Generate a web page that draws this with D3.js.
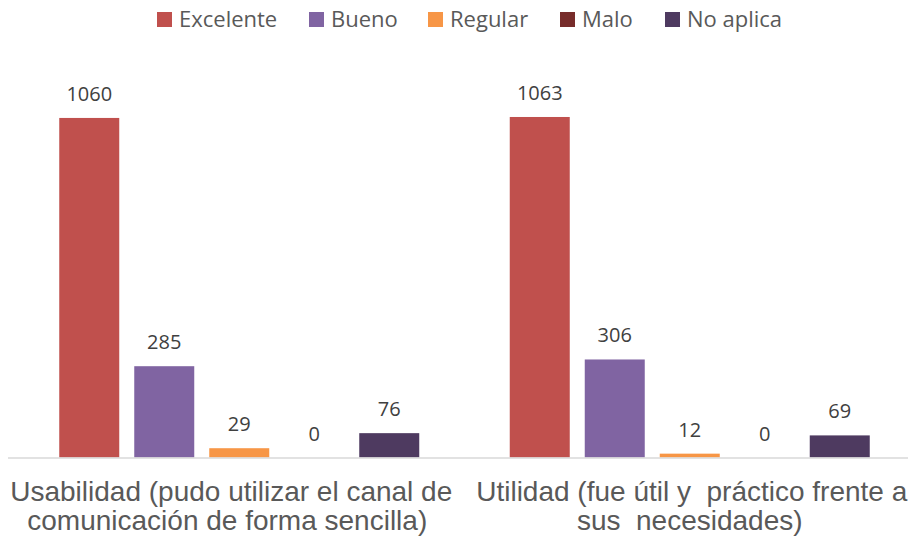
<!DOCTYPE html>
<html>
<head>
<meta charset="utf-8">
<script src="https://cdn.jsdelivr.net/npm/d3@7"></script>
<style>
  body { margin: 0; background: #fff; }
  svg { display: block; }
</style>
</head>
<body>
<div id="chart"></div>
<script>
var svgWidth = 908;
var svgHeight = 537;

// data
var categories = [
  ["Usabilidad (pudo utilizar el canal de", "comunicación de forma sencilla)"],
  ["Utilidad (fue útil y  práctico frente a", "sus  necesidades)"]
];
var series = ["Excelente", "Bueno", "Regular", "Malo", "No aplica"];
var colors = ["#c0504d", "#8064a2", "#f79646", "#772c2a", "#4e3a60"];
var usabilidad = [1060, 285, 29, 0, 76];
var utilidad = [1063, 306, 12, 0, 69];
var values = [usabilidad, utilidad];

var svg = d3.select("#chart").append("svg")
    .attr("width", svgWidth).attr("height", svgHeight);

var catIdx = d3.range(categories.length);

var x0 = d3.scaleBand()
    .domain(catIdx)
    .range([14, 915]);

var x1 = d3.scaleBand()
    .domain(series)
    .range([-180, 180])
    .paddingInner(0.2);

var y = d3.scaleLinear()
    .domain([0, 1200])
    .range([457.5, 73.1]);

var color = d3.scaleOrdinal().domain(series).range(colors);

// bars
var groups = svg.selectAll("g.cat")
    .data(catIdx)
    .enter()
    .append("g")
    .attr("class", "cat")
    .attr("transform", d => `translate(${x0(d) + x0.bandwidth() / 2}, 0)`);

groups.selectAll("rect")
    .data(d => series.map((s, i) => ({ s: s, v: values[d][i] })))
    .enter()
    .append("rect")
    .attr("x", d => x1(d.s))
    .attr("y", d => y(d.v))
    .attr("width", x1.bandwidth())
    .attr("height", d => y(0) - y(d.v))
    .attr("fill", d => color(d.s));

groups.selectAll("text.val")
    .data(d => series.map((s, i) => ({ s: s, v: values[d][i] })))
    .enter()
    .append("text")
    .attr("class", "val")
    .attr("x", d => x1(d.s) + x1.bandwidth() / 2)
    .attr("y", d => y(d.v) - 17)
    .attr("text-anchor", "middle")
    .style("font-family", "'Open Sans', sans-serif")
    .style("font-size", "20px")
    .style("fill", "#404040")
    .text(d => d.v);

// category axis line
svg.append("line")
    .attr("x1", 8).attr("x2", 908)
    .attr("y1", y(0) + 0.5).attr("y2", y(0) + 0.5)
    .attr("stroke", "#d9d9d9")
    .attr("stroke-width", 1.5);

// category labels (small per-line nudges to follow the wrapped text in the original)
var lineShift = [[-8, -12], [2, 0]];

var catLabels = svg.selectAll("text.cat")
    .data(catIdx)
    .enter()
    .append("text")
    .attr("class", "cat")
    .attr("text-anchor", "middle")
    .attr("xml:space", "preserve")
    .style("white-space", "pre")
    .style("font-family", "'Liberation Sans', Arial, sans-serif")
    .style("font-size", "28px")
    .style("fill", "#595959");

catLabels.selectAll("tspan")
    .data(d => categories[d].map((t, i) => ({ t: t, c: d, i: i })))
    .enter()
    .append("tspan")
    .attr("x", d => x0(d.c) + x0.bandwidth() / 2 + lineShift[d.c][d.i])
    .attr("y", d => 501 + d.i * 29)
    .text(d => d.t);

// legend
var legendX = [157, 309, 428, 560, 665];
var legend = svg.selectAll("g.legend")
    .data(series)
    .enter()
    .append("g")
    .attr("class", "legend")
    .attr("transform", (d, i) => `translate(${legendX[i]}, 12)`);

legend.append("rect")
    .attr("width", 15).attr("height", 15)
    .attr("fill", d => color(d));

legend.append("text")
    .attr("x", 22)
    .attr("y", 14.5)
    .style("font-family", "'Open Sans', sans-serif")
    .style("font-size", "22px")
    .style("fill", "#595959")
    .text(d => d);
</script>
</body>
</html>
